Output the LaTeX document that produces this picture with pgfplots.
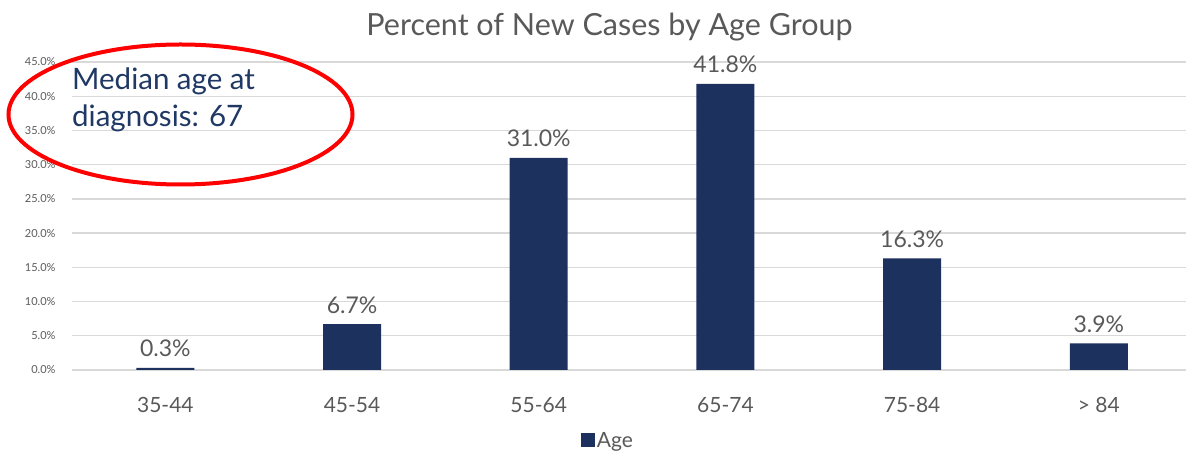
\documentclass[border=0pt]{standalone}
\usepackage{fontspec}
\setmainfont{Lato}
\usepackage{pgfplots}
\pgfplotsset{compat=1.18}
\definecolor{barnavy}{RGB}{29,49,94}
\definecolor{txtgray}{RGB}{89,89,89}
\definecolor{gridcol}{RGB}{217,217,217}
\definecolor{annonavy}{RGB}{31,56,100}
\begin{document}
\begin{tikzpicture}[x=1pt,y=1pt]
\useasboundingbox (0,0) rectangle (1186,452);
\begin{axis}[
  at={(72pt,82pt)}, anchor=south west,
  scale only axis, width=1114pt, height=308pt,
  xmin=-0.5, xmax=5.467, ymin=0, ymax=45,
  axis line style={draw=none},
  tick style={draw=none},
  ymajorgrids, grid style={gridcol, line width=1.3pt},
  xtick={0,...,5},
  xticklabels={35-44,45-54,55-64,65-74,75-84,{> 84}},
  ytick={0,5,...,45},
  /pgf/number format/assume math mode=true,
  yticklabel={\pgfmathprintnumber[fixed,fixed zerofill,precision=1]{\tick}\%},
  yticklabel style={font=\fontsize{11}{13}\selectfont, text=txtgray, anchor=east, xshift=-13pt},
  xticklabel style={font=\fontsize{21}{24}\selectfont, text=txtgray, anchor=base, yshift=-38pt},
  ybar, bar width=58pt,
  nodes near coords={\pgfmathprintnumber[fixed,fixed zerofill,precision=1]{\pgfplotspointmeta}\%},
  every node near coord/.append style={font=\fontsize{23}{26}\selectfont, text=txtgray, anchor=base, yshift=11pt},
  legend style={at={(axis description cs:0.454,-0.19)}, anchor=north west, draw=none, fill=none,
    font=\fontsize{21}{24}\selectfont, text=txtgray},
  legend image code/.code={\fill[barnavy] (-8pt,-6pt) rectangle (6pt,8pt);},
  clip=false,
]
\addplot[fill=barnavy, draw=none] coordinates {(0,0.3) (1,6.7) (2,31.0) (3,41.8) (4,16.3) (5,3.9)};
\addlegendentry{Age}
\end{axis}
\node[anchor=base, text=txtgray, font=\fontsize{30.5}{34}\selectfont] at (609.5,416) {Percent of New Cases by Age Group};
\node[anchor=base west, inner sep=0pt, text=annonavy, font=\fontsize{29.5}{33}\selectfont] at (72,362) {Median age at};
\node[anchor=base west, inner sep=0pt, text=annonavy, font=\fontsize{29.5}{33}\selectfont] at (72,325) {diagnosis: 67};
\draw[red, line width=4pt] (180.5,337.5) ellipse (172 and 70);
\end{tikzpicture}
\end{document}
